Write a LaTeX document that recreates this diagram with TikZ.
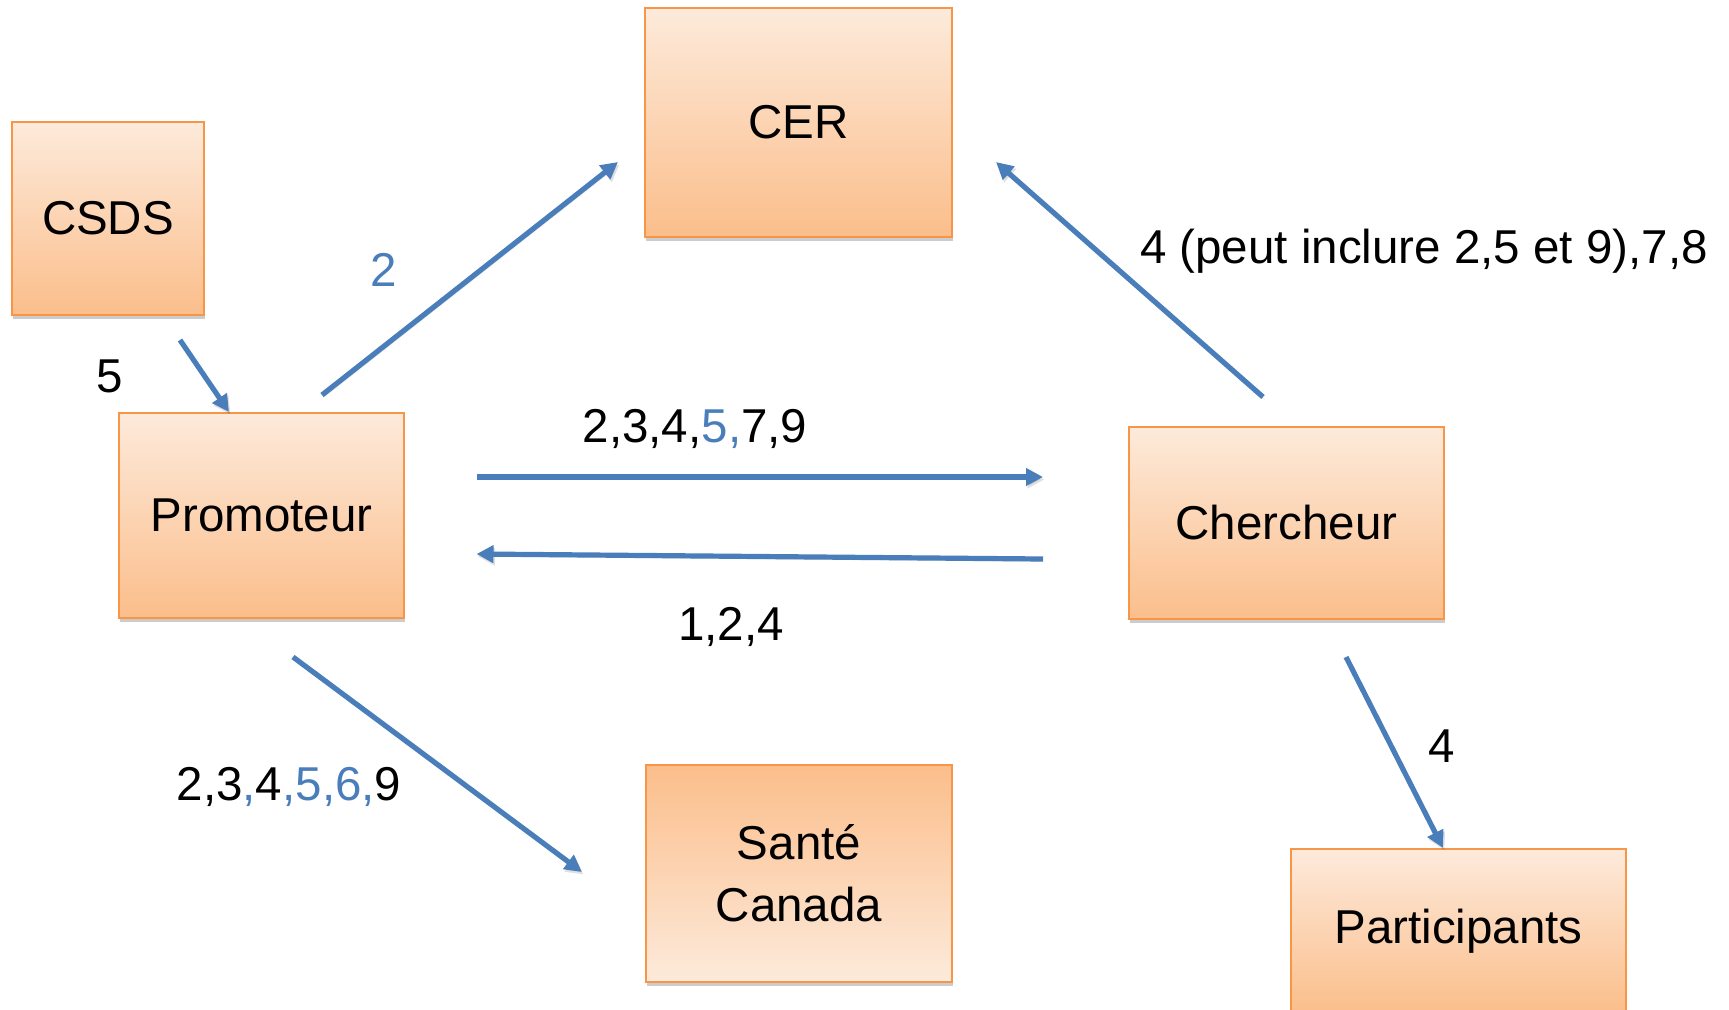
\documentclass[tikz,border=0pt]{standalone}
\usepackage{fontspec}
\setmainfont{Liberation Sans}
\usetikzlibrary{arrows.meta,shadows}
\definecolor{boxline}{HTML}{F79646}
\definecolor{boxtop}{HTML}{FDEADB}
\definecolor{boxbot}{HTML}{FBBE8B}
\definecolor{arr}{HTML}{4A7EBB}
\newcommand\dgfont{\fontsize{47.5bp}{62bp}\selectfont}
\begin{document}
\begin{tikzpicture}[x=1bp,y=-1bp,
  box/.style={draw=boxline,line width=2.4bp,top color=boxtop,bottom color=boxbot,
    inner sep=0pt,align=center,font=\dgfont,
    drop shadow={shadow xshift=1bp,shadow yshift=-4bp,opacity=0.2,fill=black}},
  boxrev/.style={box,top color=boxbot,bottom color=boxtop},
  conn/.style={draw=arr,line width=5.2bp,-{Triangle[length=17bp,width=17bp]},
    preaction={draw=black,opacity=0.12,transform canvas={shift={(1.5bp,-2.5bp)}}}},
  lab/.style={font=\dgfont,inner sep=0pt,text height=34bp,text depth=0pt}]
\useasboundingbox (0,0) rectangle (1729,1009);
% boxes
\node[box,minimum width=192bp,minimum height=193bp] (csds) at (108,218.5) {CSDS};
\node[box,minimum width=307bp,minimum height=229bp] (cer) at (798.5,122.5) {CER};
\node[box,minimum width=285bp,minimum height=205bp] (prom) at (261.5,515.5) {Promoteur};
\node[box,minimum width=315bp,minimum height=192bp] (cherch) at (1286.5,523) {Chercheur};
\node[boxrev,minimum width=306bp,minimum height=217bp] (sante) at (799,873.5) {Santé\\Canada};
\node[box,minimum width=335bp,minimum height=164bp] (part) at (1458.5,931) {Participants};
% connector end points
\coordinate (a1s) at (180,340);   \coordinate (a1e) at (229,412);
\coordinate (a2s) at (322,395);   \coordinate (a2e) at (618,162);
\coordinate (a3s) at (476.5,477); \coordinate (a3e) at (1043,477);
\coordinate (a4s) at (1043,559);  \coordinate (a4e) at (476.5,554);
\coordinate (a5s) at (293,657);   \coordinate (a5e) at (582,872);
\coordinate (a6s) at (1263,397);  \coordinate (a6e) at (996,162);
\coordinate (a7s) at (1346,657);  \coordinate (a7e) at (1443,848);
% connectors
\draw[conn] (a1s) -- (a1e);
\draw[conn] (a2s) -- (a2e);
\draw[conn] (a3s) -- (a3e);
\draw[conn] (a4s) -- (a4e);
\draw[conn] (a5s) -- (a5e);
\draw[conn] (a6s) -- (a6e);
\draw[conn] (a7s) -- (a7e);
% labels
\node[lab] (l5) at (110,375) {5};
\node[lab,text=arr] (l2) at (384,269) {2};
\node[lab] (ltop) at (695,425) {2,3,4,\textcolor{arr}{5,}7,9};
\node[lab] (lbot) at (731,623) {1,2,4};
\node[lab] (lsan) at (289,783) {2,3\textcolor{arr}{,}4\textcolor{arr}{,5,6,}9};
\node[lab] (lcer) at (1424,246) {4 (peut inclure 2,5 et 9),7,8};
\node[lab] (l4) at (1442,745) {4};
\end{tikzpicture}
\end{document}
